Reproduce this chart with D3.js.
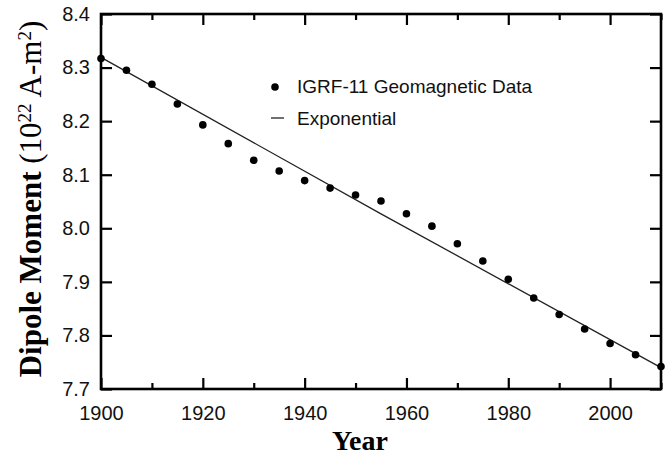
<!DOCTYPE html>
<html>
<head>
<meta charset="utf-8">
<script src="https://cdn.jsdelivr.net/npm/d3@7"></script>
<style>
  body { margin: 0; background: #fff; }
  svg { display: block; }
</style>
</head>
<body>
<div id="chart"></div>
<script>
// IGRF-11 dipole moment, every 5 years
const years = [1900, 1905, 1910, 1915, 1920, 1925, 1930, 1935, 1940, 1945, 1950, 1955,
               1960, 1965, 1970, 1975, 1980, 1985, 1990, 1995, 2000, 2005, 2010];
const moment = [8.317, 8.295, 8.269, 8.232, 8.193, 8.158, 8.127, 8.107, 8.089, 8.075, 8.062, 8.051,
                8.027, 8.004, 7.971, 7.939, 7.905, 7.870, 7.839, 7.812, 7.785, 7.764, 7.742];

// exponential fit
const fitYears = [1900, 1955, 2010];
const fitValues = [8.319, 8.027, 7.740];

const xMajor = [1900, 1920, 1940, 1960, 1980, 2000];
const xMinor = [1910, 1930, 1950, 1970, 1990, 2010];
const yTicks = [7.7, 7.8, 7.9, 8.0, 8.1, 8.2, 8.3, 8.4];

const legendLabels = ["IGRF-11 Geomagnetic Data", "Exponential"];

const W = 670, H = 457;
const margin = {left: 101, right: 9, top: 14, bottom: 68};

let svg = d3.select("#chart")
  .append("svg")
  .attr("width", W)
  .attr("height", H);

let x = d3.scaleLinear().domain([1900, 2010]).range([margin.left, W - margin.right]);
let y = d3.scaleLinear().domain([7.7, 8.4]).range([H - margin.bottom, margin.top]);

const tickFont = "'Liberation Sans', Arial, sans-serif";
const serif = "'Liberation Serif', 'Times New Roman', serif";

// bottom axis with labels
svg.append("g")
  .attr("transform", `translate(0,${y(7.7)})`)
  .call(d3.axisBottom(x).tickValues(xMajor).tickSize(-11).tickPadding(17).tickFormat(d3.format("d")));
svg.append("g")
  .attr("transform", `translate(0,${y(7.7)})`)
  .call(d3.axisBottom(x).tickValues(xMinor).tickSize(-6).tickFormat(""));

// top axis, ticks only
svg.append("g")
  .attr("transform", `translate(0,${y(8.4)})`)
  .call(d3.axisTop(x).tickValues(xMajor).tickSize(-11).tickFormat(""));
svg.append("g")
  .attr("transform", `translate(0,${y(8.4)})`)
  .call(d3.axisTop(x).tickValues(xMinor).tickSize(-6).tickFormat(""));

// left axis with labels
svg.append("g")
  .attr("transform", `translate(${x(1900)},0)`)
  .call(d3.axisLeft(y).tickValues(yTicks).tickSize(-11).tickPadding(11).tickFormat(d3.format(".1f")));

// right axis
svg.append("g")
  .attr("transform", `translate(${x(2010)},0)`)
  .call(d3.axisRight(y).tickValues(yTicks).tickSize(-11).tickFormat(""));

svg.selectAll(".domain").remove();
svg.selectAll(".tick line").attr("stroke", "#000").attr("stroke-width", 2.2);
svg.selectAll(".tick text")
  .attr("fill", "#111")
  .style("font-family", tickFont)
  .style("font-size", "20px");

// frame
svg.append("rect")
  .attr("x", x(1900))
  .attr("y", y(8.4))
  .attr("width", x(2010) - x(1900))
  .attr("height", y(7.7) - y(8.4))
  .attr("fill", "none")
  .attr("stroke", "#000")
  .attr("stroke-width", 2.6);

// fit line
let line = d3.line().x(d => x(d[0])).y(d => y(d[1]));
svg.append("path")
  .datum(fitYears.map((t, i) => [t, fitValues[i]]))
  .attr("d", line)
  .attr("fill", "none")
  .attr("stroke", "#222")
  .attr("stroke-width", 1.3);

// data points
svg.append("g")
  .selectAll("circle")
  .data(years.map((t, i) => [t, moment[i]]))
  .join("circle")
  .attr("cx", d => x(d[0]))
  .attr("cy", d => y(d[1]))
  .attr("r", 3.8)
  .attr("fill", "#000");

// legend
let lg = svg.append("g").attr("transform", "translate(275,87)");
lg.append("circle").attr("cx", 0).attr("cy", 0).attr("r", 3.8).attr("fill", "#000");
lg.append("line")
  .attr("x1", -4).attr("x2", 9)
  .attr("y1", 31).attr("y2", 31)
  .attr("stroke", "#222").attr("stroke-width", 1.3);
lg.selectAll("text")
  .data(legendLabels)
  .join("text")
  .attr("x", 22)
  .attr("y", (d, i) => i * 32 + 6)
  .style("font-family", tickFont)
  .style("font-size", "19px")
  .attr("fill", "#111")
  .text(d => d);

// x axis title
svg.append("text")
  .attr("x", 360)
  .attr("y", 450)
  .attr("text-anchor", "middle")
  .style("font-family", serif)
  .style("font-weight", "bold")
  .style("font-size", "28px")
  .text("Year");

// y axis title
let yt = svg.append("text")
  .attr("transform", "translate(41,199) rotate(-90)")
  .attr("text-anchor", "middle")
  .style("font-family", serif)
  .style("font-size", "31px");
yt.append("tspan").style("font-weight", "bold").text("Dipole Moment ");
yt.append("tspan").text("(10");
yt.append("tspan").attr("baseline-shift", "super").style("font-size", "19px").text("22");
yt.append("tspan").text(" A-m");
yt.append("tspan").attr("baseline-shift", "super").style("font-size", "19px").text("2");
yt.append("tspan").text(")");
</script>
</body>
</html>
